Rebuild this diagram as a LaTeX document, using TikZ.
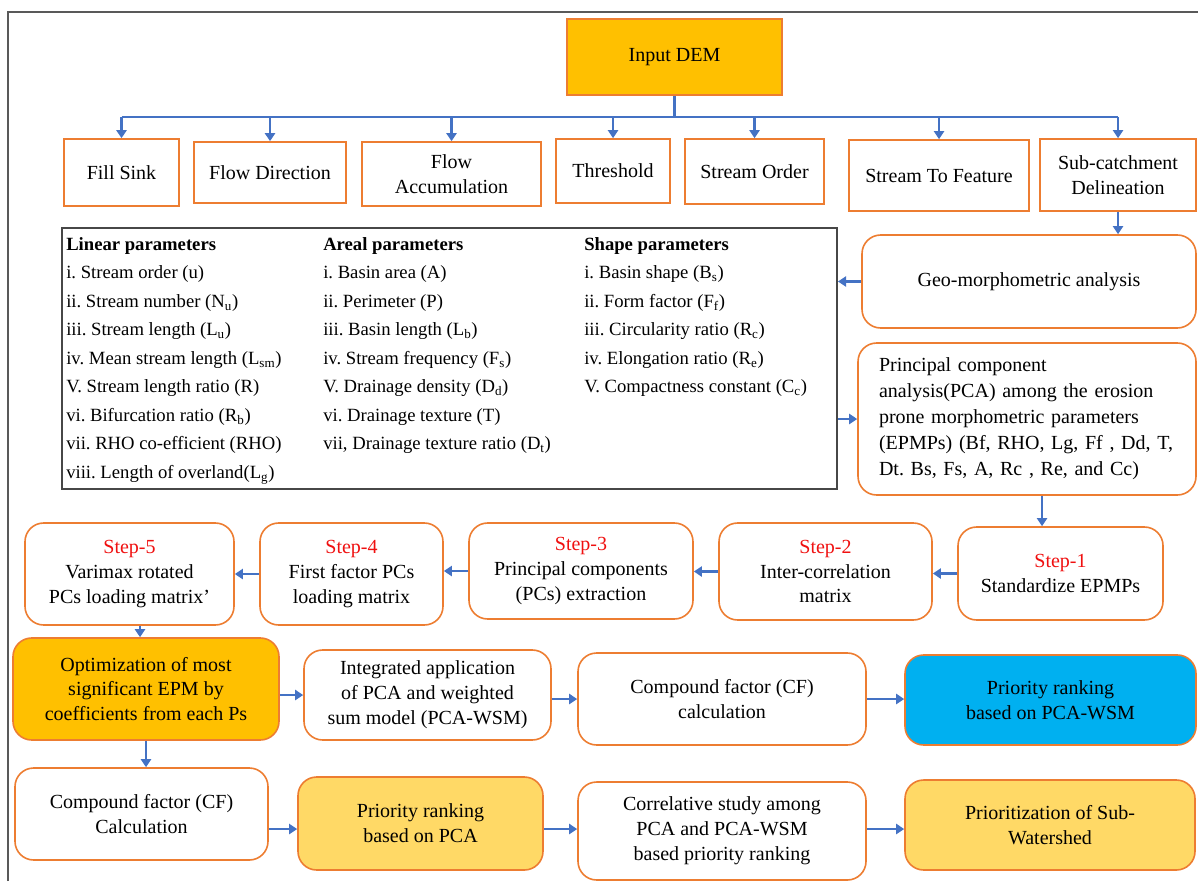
\documentclass[tikz,border=0pt]{standalone}
\usepackage{fontspec}
\setmainfont{Liberation Serif}
\frenchspacing
\usetikzlibrary{arrows.meta}
\definecolor{obord}{HTML}{ED7D31}
\definecolor{gold}{HTML}{FFC000}
\definecolor{lgold}{HTML}{FFD966}
\definecolor{sky}{HTML}{00B0F0}
\definecolor{conn}{HTML}{4472C4}
\definecolor{framec}{HTML}{595959}
\definecolor{stepred}{HTML}{F01010}
\begin{document}
\begin{tikzpicture}[x=0.75pt,y=-0.75pt,
  sz/.style 2 args={minimum width=#1*0.75pt, minimum height=#2*0.75pt},
  sq/.style={draw=obord, line width=1.2pt, fill=white, inner sep=0pt, align=center, font=\fontsize{15}{18.7}\selectfont},
  rnd/.style={sq, rounded corners=14pt},
  link/.style={draw=conn, line width=2.2pt},
  arr/.style={link, -{Triangle[length=6pt,width=7.5pt]}},
  coltext/.style={anchor=north west, inner sep=0pt, align=left, font=\fontsize{14}{21.4}\selectfont}
]
\useasboundingbox (0,0) rectangle (1198,881);
% outer frame
\draw[framec, line width=1.2pt] (8,881) -- (8,12) -- (1198,12);

% top
\node[sq, fill=gold, sz={215}{76}] (dem) at (674.5,57) {Input DEM};
\node[sq, sz={115}{67}] (fs) at (121.5,172.5) {Fill Sink};
\node[sq, sz={152}{61}] (fd) at (270,172.5) {Flow Direction};
\node[sq, sz={179}{64}] (fa) at (451.5,174) {Flow\\Accumulation};
\node[sq, sz={114}{64}] (th) at (613,171) {Threshold};
\node[sq, sz={139}{65}] (so) at (754.5,171.5) {Stream Order};
\node[sq, sz={180}{71}] (stf) at (939,175.5) {Stream To Feature};
\node[sq, sz={156}{72}] (sc) at (1118,175) {Sub-catchment\\Delineation};

\coordinate (bus) at (0,117);
\draw[link] (dem.south) -- (dem.south |- bus);
\draw[link] (fs.north |- bus) -- (sc.north |- bus);
\foreach \n in {fs,fd,fa,th,so,stf,sc}{
  \draw[arr] (\n.north |- bus) -- (\n.north);
}

% parameter box
\node[draw=framec!80!black, line width=1.5pt, inner sep=0pt, sz={775}{261}] (params) at (449.5,358.5) {};
\node[coltext] (lin) at (66,237) {\textbf{Linear parameters}\\
i. Stream order (u)\\
ii. Stream number (N\textsubscript{u})\\
iii. Stream length (L\textsubscript{u})\\
iv. Mean stream length (L\textsubscript{sm})\\
V. Stream length ratio (R)\\
vi. Bifurcation ratio (R\textsubscript{b})\\
vii. RHO co-efficient (RHO)\\
viii. Length of overland(L\textsubscript{g})};
\node[coltext] (are) at (323,237) {\textbf{Areal parameters}\\
i. Basin area (A)\\
ii. Perimeter (P)\\
iii. Basin length (L\textsubscript{b})\\
iv. Stream frequency (F\textsubscript{s})\\
V. Drainage density (D\textsubscript{d})\\
vi. Drainage texture (T)\\
vii, Drainage texture ratio (D\textsubscript{t})};
\node[coltext] (shp) at (584,237) {\textbf{Shape parameters}\\
i. Basin shape (B\textsubscript{s})\\
ii. Form factor (F\textsubscript{f})\\
iii. Circularity ratio (R\textsubscript{c})\\
iv. Elongation ratio (R\textsubscript{e})\\
V. Compactness constant (C\textsubscript{c})};

% right column
\node[rnd, sz={334}{93}] (geo) at (1029,281.5) {Geo-morphometric analysis};
\node[rnd, sz={338}{152}, align=left, text width=222pt, font=\fontsize{15}{19.5}\selectfont] (pca) at (1027,419) {Principal component\\
analysis(PCA) among the erosion\\
prone morphometric parameters\\
(EPMPs) (Bf,  RHO, Lg, Ff , Dd, T,\\
Dt. Bs, Fs, A, Rc , Re, and Cc)};
\draw[arr] (sc.south) -- (sc.south |- geo.north);
\draw[arr] (geo.west) -- (geo.west -| params.east);
\draw[arr] (pca.west -| params.east) -- (pca.west);

% steps
\node[rnd, sz={209}{102}] (s5) at (129.5,574) {\textcolor{stepred}{Step-5}\\Varimax rotated\\PCs loading matrix'};
\node[rnd, sz={183}{102}] (s4) at (351.5,574) {\textcolor{stepred}{Step-4}\\First factor  PCs\\loading matrix};
\node[rnd, sz={224}{96}] (s3) at (581,571) {\textcolor{stepred}{Step-3}\\Principal components\\(PCs) extraction};
\node[rnd, sz={213}{97}] (s2) at (825.5,571.5) {\textcolor{stepred}{Step-2}\\Inter-correlation\\matrix};
\node[rnd, sz={205}{93}] (s1) at (1060.5,573.5) {\textcolor{stepred}{Step-1}\\Standardize EPMPs};
\coordinate (pcax) at (1042,0);
\draw[arr] (pca.south -| pcax) -- (s1.north -| pcax);
\draw[arr] (s1.west) -- (s1.west -| s2.east);
\draw[arr] (s2.west) -- (s2.west -| s3.east);
\draw[arr] (s3.west) -- (s3.west -| s4.east);
\draw[arr] (s4.west) -- (s4.west -| s5.east);

% row 3
\node[rnd, fill=gold, sz={266}{102}] (opt) at (146,689) {Optimization of most\\significant EPM by\\coefficients from each Ps};
\node[rnd, sz={247}{90}] (int) at (427.5,695) {Integrated application\\of PCA and weighted\\sum model (PCA-WSM)};
\node[rnd, sz={288}{92}] (cf1) at (722,699) {Compound factor (CF)\\calculation};
\node[rnd, fill=sky, sz={291}{90}] (prw) at (1050.5,700) {Priority ranking\\based on PCA-WSM};
\coordinate (s5x) at (140,0);
\draw[arr] (s5.south -| s5x) -- (opt.north -| s5x);
\draw[arr] (int.west -| opt.east) -- (int.west);
\draw[arr] (cf1.west -| int.east) -- (cf1.west);
\draw[arr] (cf1.east) -- (cf1.east -| prw.west);

% row 4
\node[rnd, sz={253}{92}] (cf2) at (141.5,814) {Compound factor (CF)\\Calculation};
\node[rnd, fill=lgold, sz={245}{93}] (prp) at (420.5,823.5) {Priority ranking\\based on PCA};
\node[rnd, sz={288}{98}] (cor) at (722,831) {Correlative study among\\PCA and PCA-WSM\\based priority ranking};
\node[rnd, fill=lgold, sz={290}{90}] (pws) at (1050,825) {Prioritization of  Sub-\\Watershed};
\draw[arr] (opt.south) -- (opt.south |- cf2.north);
\coordinate (r4) at (0,829);
\draw[arr] (cf2.east |- r4) -- (prp.west |- r4);
\draw[arr] (prp.east |- r4) -- (cor.west |- r4);
\draw[arr] (cor.east |- r4) -- (pws.west |- r4);
\end{tikzpicture}
\end{document}
